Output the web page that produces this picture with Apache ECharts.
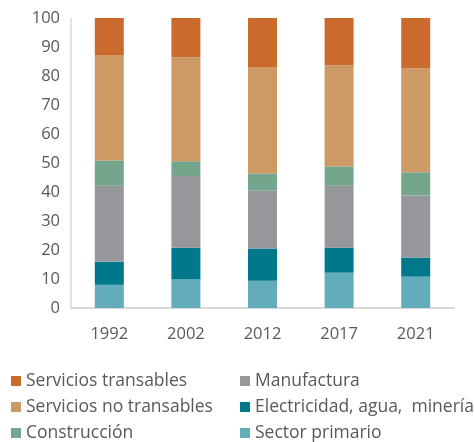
<!DOCTYPE html>
<html>
<head>
<meta charset="utf-8">
<style>
  html, body { margin: 0; padding: 0; background: #fff; }
  #chart { width: 474px; height: 442px; }
</style>
<script src="https://cdn.jsdelivr.net/npm/echarts@6/dist/echarts.min.js"></script>
</head>
<body>
<div id="chart"></div>
<script>
const years = ['1992', '2002', '2012', '2017', '2021']

// shares (%) by sector, stacked bottom to top
const sectorPrimario = [8.0, 9.8, 9.4, 12.2, 10.8]
const electricidad = [8.0, 11.0, 11.1, 8.6, 6.6]
const manufactura = [26.2, 24.7, 20.0, 21.4, 21.4]
const construccion = [8.7, 5.1, 5.9, 6.6, 8.0]
const serviciosNoTransables = [36.3, 35.9, 36.7, 34.9, 35.9]
const serviciosTransables = [12.8, 13.5, 16.9, 16.3, 17.3]

const yTicks = [0, 10, 20, 30, 40, 50, 60, 70, 80, 90, 100]

const font = 'Open Sans'
const textColor = '#595959'

const series = [
  { name: 'Sector primario', data: sectorPrimario, color: '#62acbc' },
  { name: 'Electricidad, agua,  minería', data: electricidad, color: '#00788c' },
  { name: 'Manufactura', data: manufactura, color: '#96979b' },
  { name: 'Construcción', data: construccion, color: '#74a58d' },
  { name: 'Servicios no transables', data: serviciosNoTransables, color: '#cd9a65' },
  { name: 'Servicios transables', data: serviciosTransables, color: '#ca6a2c' }
]

const legendBase = {
  orient: 'vertical',
  top: 372,
  height: 90,
  padding: 0,
  itemWidth: 10,
  itemHeight: 10,
  itemGap: 8,
  icon: 'rect',
  textStyle: { color: textColor, fontSize: 17.5, fontFamily: font, lineHeight: 17 }
}

const chart = echarts.init(document.getElementById('chart'))

chart.setOption({
  animation: false,
  grid: { left: 71, right: 20, top: 18, bottom: 134 },
  legend: [
    Object.assign({}, legendBase, {
      left: 11,
      data: ['Servicios transables', 'Servicios no transables', 'Construcción']
    }),
    Object.assign({}, legendBase, {
      left: 240,
      data: ['Manufactura', 'Electricidad, agua,  minería', 'Sector primario']
    })
  ],
  xAxis: {
    type: 'category',
    data: years,
    axisLine: { lineStyle: { color: '#d9d9d9', width: 2 } },
    axisTick: { show: false },
    axisLabel: { color: textColor, fontSize: 16.5, fontFamily: font, margin: 18 }
  },
  yAxis: {
    type: 'value',
    min: yTicks[0],
    max: yTicks[yTicks.length - 1],
    interval: 10,
    axisLine: { show: true, lineStyle: { color: '#d9d9d9', width: 1.5 } },
    axisTick: { show: false },
    splitLine: { show: false },
    axisLabel: { color: textColor, fontSize: 16.5, fontFamily: font, margin: 11 }
  },
  series: series.map(s => ({
    name: s.name,
    type: 'bar',
    stack: 'total',
    barWidth: 29,
    data: s.data,
    itemStyle: { color: s.color }
  }))
})
</script>
</body>
</html>
